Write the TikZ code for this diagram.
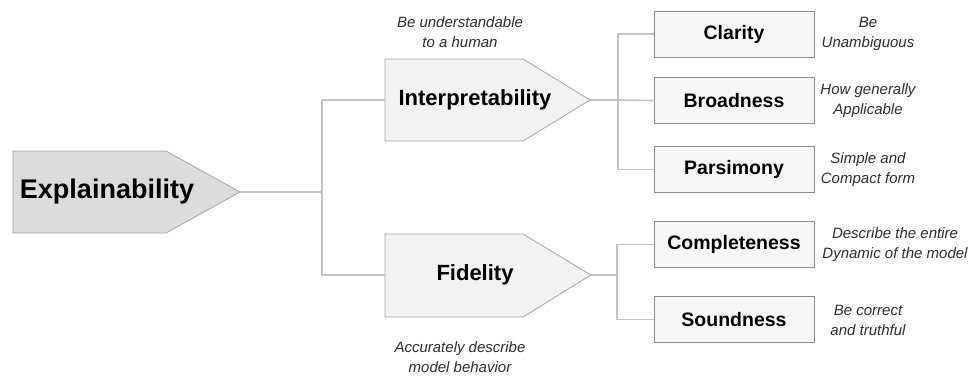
\documentclass[tikz,border=0pt]{standalone}
\usepackage{fontspec}
\setmainfont{Liberation Sans}
\usetikzlibrary{positioning}

\definecolor{pentline}{HTML}{A6A6A6}
\definecolor{explfill}{HTML}{DCDCDC}
\definecolor{subfill}{HTML}{F2F2F2}
\definecolor{boxline}{HTML}{8C8C8C}
\definecolor{boxfill}{HTML}{F7F7F7}
\definecolor{linkcol}{HTML}{C4C4C4}
\definecolor{notecol}{HTML}{2E2E2E}

\tikzset{
  pent/.style={draw=pentline, line width=0.8pt},
  crit/.style={draw=boxline, fill=boxfill, line width=0.9pt, minimum width=160pt,
    minimum height=46pt, inner sep=0pt, font=\bfseries\fontsize{19.5}{22}\selectfont},
  note/.style={align=center, text=notecol, font=\itshape\fontsize{15}{20}\selectfont},
  link/.style={draw=linkcol, line width=1.6pt},
}

\begin{document}
\begin{tikzpicture}[x=1pt, y=-1pt]
  \fill[white] (0,0) rectangle (971,376);
  \useasboundingbox (0,0) rectangle (971,376);

  % pentagons
  \draw[pent, fill=explfill] (13,151) -- (166,151) -- (240,192) -- (166,233) -- (13,233) -- cycle;
  \draw[pent, fill=subfill] (385,59) -- (523,59) -- (590,100) -- (523,141) -- (385,141) -- cycle;
  \draw[pent, fill=subfill] (385,234) -- (523,234) -- (591,275) -- (523,317) -- (385,317) -- cycle;
  \coordinate (expltip) at (240,192);
  \coordinate (interpin) at (385,100);
  \coordinate (interptip) at (590,100);
  \coordinate (fidin) at (385,275);
  \coordinate (fidtip) at (591,275);

  \node[font=\bfseries\fontsize{27}{30}\selectfont] (expl) at (107,192) {Explainability};
  \node[font=\bfseries\fontsize{22}{26}\selectfont] (interp) at (475,100) {Interpretability};
  \node[font=\bfseries\fontsize{22}{26}\selectfont] (fid) at (475,275) {Fidelity};

  \node[crit] (clarity) at (734,34) {Clarity};
  \node[crit] (broad) at (734,100.5) {Broadness};
  \node[crit] (pars) at (734,169.5) {Parsimony};
  \node[crit] (compl) at (734,244.5) {Completeness};
  \node[crit] (sound) at (734,319.5) {Soundness};

  \node[note] (interpnote) at (460,32) {Be understandable\\to a human};
  \node[note] (fidnote) at (460,357) {Accurately describe\\model behavior};
  \node[note] (claritynote) at (868,34) {Be\\Unambiguous};
  \node[note] (broadnote) at (868,101) {How generally\\Applicable};
  \node[note] (parsnote) at (868,170) {Simple and\\Compact form};
  \node[note] (complnote) at (895,245) {Describe the entire\\Dynamic of the model};
  \node[note] (soundnote) at (868,320) {Be correct\\and truthful};

  % connectors
  \coordinate (trunk) at (322,192);
  \coordinate (ibranch) at (618,100);
  \coordinate (fbranch) at (617,275);
  \draw[link] (expltip) -- (trunk);
  \draw[link] (interpin) -| (trunk) |- (fidin);
  \draw[link] (interptip) -- (ibranch);
  \draw[link] (clarity.west) -| (ibranch) |- (pars.west);
  \draw[link] (ibranch) -- (broad.west);
  \draw[link] (fidtip) -- (fbranch);
  \draw[link] (compl.west) -| (fbranch) |- (sound.west);
\end{tikzpicture}
\end{document}
